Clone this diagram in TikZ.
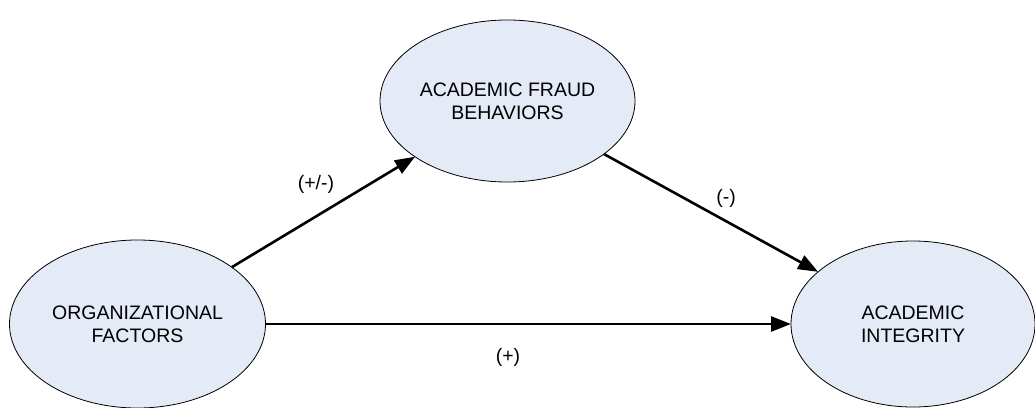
\documentclass[tikz,border=0pt]{standalone}
\usepackage{fontspec}
\setmainfont{Liberation Sans}
\usetikzlibrary{shapes.geometric,arrows.meta}
\definecolor{ovalfill}{RGB}{228,234,246}
\tikzset{
    oval/.style={ellipse, draw=black, fill=ovalfill, line width=0.8pt, inner sep=0pt, outer sep=0pt, align=center, font=\fontsize{19.5}{23}\selectfont},
    link/.style={line width=2.6pt, -{Triangle[length=20pt,width=15pt]}},
    sign/.style={font=\fontsize{19.5}{23}\selectfont}
}
\begin{document}
\begin{tikzpicture}[x=1pt,y=-1pt]
    \useasboundingbox (0,0) rectangle (1035,407);
    \node[oval, minimum width=256pt, minimum height=168pt] (org) at (137.5,324) {ORGANIZATIONAL\\FACTORS};
    \node[oval, minimum width=255pt, minimum height=162pt] (fraud) at (507.5,101) {ACADEMIC FRAUD\\BEHAVIORS};
    \node[oval, minimum width=244pt, minimum height=166pt] (integ) at (913,324) {ACADEMIC\\INTEGRITY};
    \draw[link] (org) -- (fraud);
    \draw[link] (fraud) -- (integ);
    \draw[link] (org) -- (integ);
    \node[sign] (mixed) at (316,184) {(+/-)};
    \node[sign] (minus) at (726,198) {(-)};
    \node[sign] (plus) at (508,357) {(+)};
\end{tikzpicture}
\end{document}
